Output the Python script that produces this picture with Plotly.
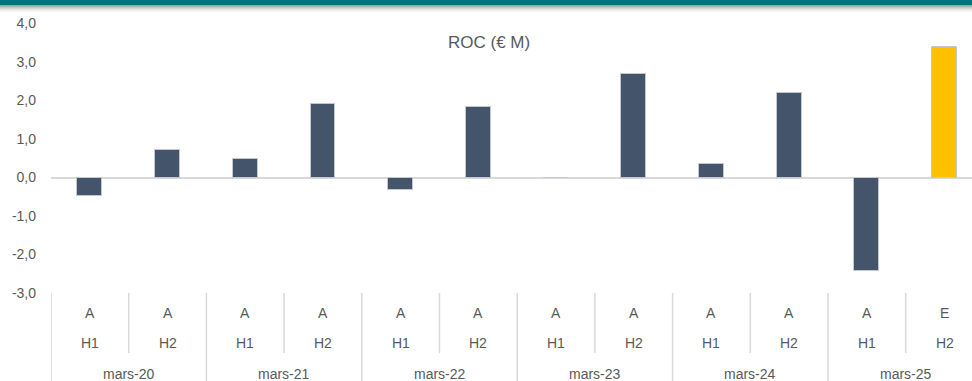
import plotly.graph_objects as go

# Half-year ROC (EUR millions), A = actual, E = estimate
years = ["mars-20", "mars-20", "mars-21", "mars-21", "mars-22", "mars-22",
         "mars-23", "mars-23", "mars-24", "mars-24", "mars-25", "mars-25"]
halves = ["H1", "H2"] * 6
status = ["A", "A", "A", "A", "A", "A", "A", "A", "A", "A", "A", "E"]
roc = [-0.49, 0.72, 0.48, 1.91, -0.32, 1.84, -0.02, 2.68, 0.36, 2.20, -2.44, 3.40]
y_ticks = [-3, -2, -1, 0, 1, 2, 3, 4]
y_tick_text = ["-3,0", "-2,0", "-1,0", "0,0", "1,0", "2,0", "3,0", "4,0"]

W, H = 972, 381
M_L, M_B = 51, 88
PLOT_H = H - M_B
FONT = "Liberation Sans, Arial, sans-serif"
TXT = "#595959"
GRID = "#D9D9D9"


def py(px):
    """pixel row -> paper y"""
    return (PLOT_H - px) / PLOT_H


cats = [f"{y} {h}" for y, h in zip(years, halves)]
colors = ["#FFC000" if s == "E" else "#44546A" for s in status]

fig = go.Figure()
fig.add_trace(go.Bar(
    x=cats, y=roc, width=0.32,
    marker=dict(color=colors, line=dict(color="#C3C8D0", width=1)),
    hoverinfo="x+y",
))

shapes = []
annotations = []

# top band: teal strip with soft grey shadow
x_left = -M_L / (W - M_L)
shapes.append(dict(type="rect", xref="paper", yref="paper", x0=x_left, x1=1,
                   y0=py(5), y1=py(-1), fillcolor="#00777F", line_width=0,
                   layer="above"))
shade = ["#9E9E9E", "#B3B3B3", "#C6C6C6", "#D6D6D6", "#E3E3E3", "#EEEEEE", "#F7F7F7"]
for k, c in enumerate(shade):
    shapes.append(dict(type="rect", xref="paper", yref="paper", x0=x_left, x1=1,
                       y0=py(6 + k), y1=py(5 + k), fillcolor=c, line_width=0,
                       layer="above"))

# category table under the plot
n = len(cats)
for i in range(n + 1):
    xb = i - 0.5
    year_edge = (i % 2 == 0)
    shapes.append(dict(type="line", xref="x", yref="paper", x0=xb, x1=xb,
                       y0=py(293), y1=py(381 if year_edge else 353),
                       line=dict(color=GRID, width=1.5)))

label_font = dict(family=FONT, size=14, color=TXT)
for i in range(n):
    annotations.append(dict(x=i, y=py(313), xref="x", yref="paper",
                            yanchor="middle", text=status[i], showarrow=False,
                            font=label_font))
    annotations.append(dict(x=i, y=py(343), xref="x", yref="paper",
                            yanchor="middle", text=halves[i], showarrow=False,
                            font=label_font))
for i in range(0, n, 2):
    annotations.append(dict(x=i + 0.5, y=py(374), xref="x", yref="paper",
                            yanchor="middle", text=years[i], showarrow=False,
                            font=label_font))

annotations.append(dict(x=(489 - M_L) / (W - M_L), y=py(43), xref="paper",
                        yref="paper", xanchor="center", yanchor="middle",
                        text="ROC (€ M)", showarrow=False,
                        font=dict(family=FONT, size=17, color=TXT)))

fig.update_layout(
    width=W, height=H,
    margin=dict(l=M_L, r=0, t=0, b=M_B, pad=0),
    paper_bgcolor="white", plot_bgcolor="white",
    showlegend=False, bargap=0,
    shapes=shapes, annotations=annotations,
    xaxis=dict(type="category", range=[-0.5, (W - M_L) / 77.7 - 0.5],
               showticklabels=False, showgrid=False, zeroline=False,
               showline=False, ticks="", fixedrange=True),
    yaxis=dict(range=[-3, PLOT_H / 38.5 - 3], tickvals=y_ticks,
               ticktext=y_tick_text, showgrid=False, zeroline=True,
               zerolinecolor=GRID, zerolinewidth=2, showline=False,
               ticks="", ticklabelstandoff=14,
               tickfont=dict(family=FONT, size=14, color=TXT)),
)

fig.write_html("out.html")
